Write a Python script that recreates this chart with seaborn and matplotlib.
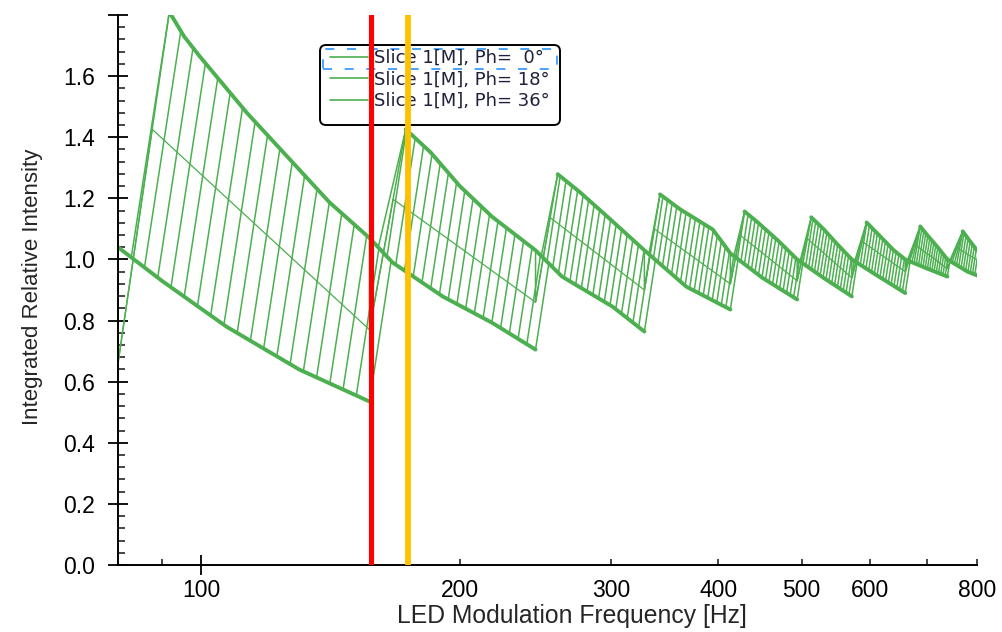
import numpy as np
import pandas as pd
import matplotlib
matplotlib.use("Agg")
import matplotlib.pyplot as plt
import seaborn as sns
from matplotlib.lines import Line2D
from matplotlib.patches import FancyBboxPatch, Rectangle
from matplotlib.transforms import IdentityTransform

# ---------------- data ----------------
# phase of each trace (degrees)
PHASES = [0, 18, 36, 54, 72, 90, 108, 126, 144, 162,
          180, 198, 216, 234, 252, 270, 288, 306, 324, 342]

# descending branches (thick envelope lines), frequency [Hz] / intensity
ENV0_F = [75, 80, 90, 107, 130, 157]
ENV0_Y = [1.09, 1.04, 0.93, 0.78, 0.64, 0.535]
ENV1_F = [91.8, 95.5, 99.5, 113, 141, 157, 167, 191, 218, 245]
ENV1_Y = [1.81, 1.73, 1.666, 1.48, 1.187, 1.07, 0.99, 0.879, 0.793, 0.705]
ENV2_F = [173, 185, 200, 218, 245, 263, 301, 328]
ENV2_Y = [1.426, 1.35, 1.24, 1.14, 1.03, 0.944, 0.846, 0.764]
ENV3_F = [260, 276, 297, 328, 367, 413]
ENV3_Y = [1.279, 1.22, 1.14, 1.03, 0.911, 0.836]
ENV4_F = [342, 361, 394, 413, 450, 494]
ENV4_Y = [1.213, 1.164, 1.098, 1.02, 0.94, 0.869]
ENV5_F = [429, 445, 470, 494, 530, 572]
ENV5_Y = [1.157, 1.12, 1.06, 1.0, 0.94, 0.879]
ENV6_F = [513, 530, 550, 572, 610, 660]
ENV6_Y = [1.138, 1.10, 1.05, 1.0, 0.95, 0.89]
ENV7_F = [595, 615, 640, 660, 700, 739]
ENV7_Y = [1.121, 1.08, 1.03, 1.0, 0.97, 0.944]
ENV8_F = [687, 700, 720, 739, 780, 830]
ENV8_Y = [1.108, 1.08, 1.04, 1.0, 0.96, 0.93]
ENV9_F = [770, 785, 800, 830, 900]
ENV9_Y = [1.092, 1.06, 1.03, 1.0, 0.95]

# frequency of the last jump of each tooth (index 0 = before first tooth)
JUMP_END = [80, 157, 245, 328, 413, 494, 572, 660, 739, 830]
# thin middle trace: value at the end of each tooth and where it leaves the rise
MID_END_Y = [0.66, 0.77, 0.86, 0.90, 0.92, 0.93, 0.94, 0.96, 0.97, 0.97]
MID_START_Y = [1.426, 1.197, 1.137, 1.10, 1.08, 1.07, 1.06, 1.05, 1.04]

# marker lines
RED_F = 157.5
ORANGE_F = 174.0

Y_TICKS = [0.0, 0.2, 0.4, 0.6, 0.8, 1.0, 1.2, 1.4, 1.6, 1.8]
Y_TICK_LABELS = ["0.0", "0.2", "0.4", "0.6", "0.8", "1.0", "1.2", "1.4", "1.6", ""]
X_MAJOR = [100]
X_MAJOR_LABELS = ["100"]
X_MINOR = [90, 200, 300, 400, 500, 600, 700, 800]
X_MINOR_LABELS = ["", "200", "300", "400", "500", "600", "", "800"]

ENV_F = [ENV0_F, ENV1_F, ENV2_F, ENV3_F, ENV4_F, ENV5_F, ENV6_F, ENV7_F, ENV8_F, ENV9_F]
ENV_Y = [ENV0_Y, ENV1_Y, ENV2_Y, ENV3_Y, ENV4_Y, ENV5_Y, ENV6_Y, ENV7_Y, ENV8_Y, ENV9_Y]

GREEN = "#4caf50"
RISE_SLOPE = 18.3   # intensity units per decade along a rising edge


def env(i, f):
    return np.interp(np.log10(f), np.log10(ENV_F[i]), ENV_Y[i])


def env_pts(i, f_from, f_to):
    fs = np.array(ENV_F[i], dtype=float)
    ys = np.array(ENV_Y[i], dtype=float)
    m = (fs > f_from) & (fs < f_to)
    pts = [(f_from, float(env(i, f_from)))]
    pts += list(zip(fs[m], ys[m]))
    pts.append((f_to, float(env(i, f_to))))
    return pts


def rise_end(i, f_a, y_a):
    g = f_a * 10 ** np.linspace(0, 0.15, 3000)
    yl = y_a + np.log10(g / f_a) * RISE_SLOPE
    u = np.where(g >= ENV_F[i][0], env(i, g), np.inf)
    idx = int(np.argmax(yl >= u))
    return g[idx], float(env(i, g[idx]))


n_teeth = len(ENV_F) - 1
rows = []
for k, ph in enumerate(PHASES):
    pts = []
    f_cur = ENV_F[0][0]
    for i in range(1, n_teeth + 1):
        S, E = JUMP_END[i - 1], JUMP_END[i]
        if k == 0:
            pts += env_pts(i - 1, f_cur, S)
            pts.append((S, MID_END_Y[i - 1]))
            pts.append((ENV_F[i][0], ENV_Y[i][0]))
            f_cur = ENV_F[i][0]
        else:
            J = S * (E / S) ** (k / (len(PHASES) - 1))
            pts += env_pts(i - 1, f_cur, J)
            fb, yb = rise_end(i, J, float(env(i - 1, J)))
            pts.append((fb, yb))
            f_cur = fb
    pts += env_pts(n_teeth, f_cur, ENV_F[n_teeth][-1])
    for j, (f, y) in enumerate(pts):
        rows.append({"freq": f, "value": y, "curve": f"Ph={ph}", "order": j})
df_phase = pd.DataFrame(rows)

rows = []
for i in range(len(ENV_F)):
    for f, y in zip(ENV_F[i], ENV_Y[i]):
        rows.append({"freq": f, "value": y, "curve": f"env{i}"})
df_env = pd.DataFrame(rows)

rows = []
for i in range(1, n_teeth + 1):
    e0, m0 = JUMP_END[i - 1], MID_END_Y[i - 1]
    pk_f, pk_y = ENV_F[i][0], ENV_Y[i][0]
    ys = MID_START_Y[i - 1]
    frac = (ys - m0) / (pk_y - m0)
    fms = e0 * (pk_f / e0) ** frac
    rows.append({"freq": e0, "value": m0, "curve": "mid"})
    rows.append({"freq": fms, "value": ys, "curve": "mid"})
rows.append({"freq": JUMP_END[-1], "value": MID_END_Y[-1], "curve": "mid"})
df_mid = pd.DataFrame(rows)

# ---------------- figure ----------------
sns.set_style("ticks")
plt.rcParams["font.family"] = ["Liberation Sans", "DejaVu Sans"]

W, H = 1003, 632
fig = plt.figure(figsize=(W / 100, H / 100), dpi=100)
ax = fig.add_axes([118 / W, (H - 565) / H, 859 / W, 550 / H])

sns.lineplot(data=df_phase, x="freq", y="value", units="curve", estimator=None,
             sort=False, color=GREEN, linewidth=1.1, legend=False, ax=ax)
sns.lineplot(data=df_env, x="freq", y="value", units="curve", estimator=None,
             sort=False, color=GREEN, linewidth=2.8, legend=False, ax=ax)
sns.lineplot(data=df_mid, x="freq", y="value", units="curve", estimator=None,
             sort=False, color=GREEN, linewidth=0.9, legend=False, ax=ax)

ax.axvline(RED_F, color="#ff0000", lw=3.7, zorder=10)
ax.axvline(ORANGE_F, color="#ffc000", lw=4.2, zorder=10)

ax.set_xscale("log")
ax.set_xlim(80, 800)
ax.set_ylim(0, 1.8)

ax.set_yticks(Y_TICKS, labels=Y_TICK_LABELS)
ax.set_yticks(np.arange(0, 1.8, 0.04), minor=True)
ax.set_xticks(X_MAJOR, labels=X_MAJOR_LABELS)
ax.set_xticks(X_MINOR, labels=X_MINOR_LABELS, minor=True)

ax.tick_params(axis="y", which="major", direction="inout", length=15, width=1.3,
               labelsize=16.5, pad=9, colors="black")
ax.tick_params(axis="y", which="minor", direction="in", length=5, width=1.2)
ax.tick_params(axis="x", which="major", direction="inout", length=14, width=1.3,
               labelsize=16.5, pad=3.2, colors="black")
ax.tick_params(axis="x", which="minor", direction="in", length=4.5, width=1.2,
               labelsize=16.5, pad=10.2, labelcolor="black")

for s in ["top", "right"]:
    ax.spines[s].set_visible(False)
for s in ["left", "bottom"]:
    ax.spines[s].set_linewidth(1.4)
    ax.spines[s].set_color("black")

ax.set_xlabel("LED Modulation Frequency [Hz]", fontsize=17.8)
ax.set_ylabel("Integrated Relative Intensity", fontsize=16)
ax.xaxis.set_label_coords(0.5286, -0.071)
ax.yaxis.set_label_coords(-0.087, 0.505)

# legend box (rounded) and focus rectangle
box = FancyBboxPatch((320, H - 125), 240, 80, boxstyle="round,pad=0,rounding_size=6",
                     transform=IdentityTransform(), fc="white", ec="black", lw=1.4,
                     zorder=4.8, clip_on=False)
ax.add_patch(box)
focus = Rectangle((323, H - 69), 234, 20, transform=IdentityTransform(), fill=False,
                  ec="#3c9cff", lw=1.3, ls=(0, (5, 7)), zorder=4.9, clip_on=False)
ax.add_patch(focus)

handles = [Line2D([], [], color=GREEN, lw=1.2) for _ in PHASES[:3]]
labels = [f"Slice 1[M], Ph={p:>3d}\u00b0" for p in PHASES[:3]]
leg = ax.legend(handles, labels, loc="upper left",
                bbox_to_anchor=((330 - 118) / 859, (565 - 49) / 550),
                borderaxespad=0, borderpad=0, frameon=False,
                prop={"family": "DejaVu Sans", "size": 13},
                handlelength=2.1, handletextpad=0.33, labelspacing=0.2)
leg.set_zorder(5)
for t in leg.get_texts():
    t.set_color("#20203a")

fig.savefig("out.png", dpi=100)
